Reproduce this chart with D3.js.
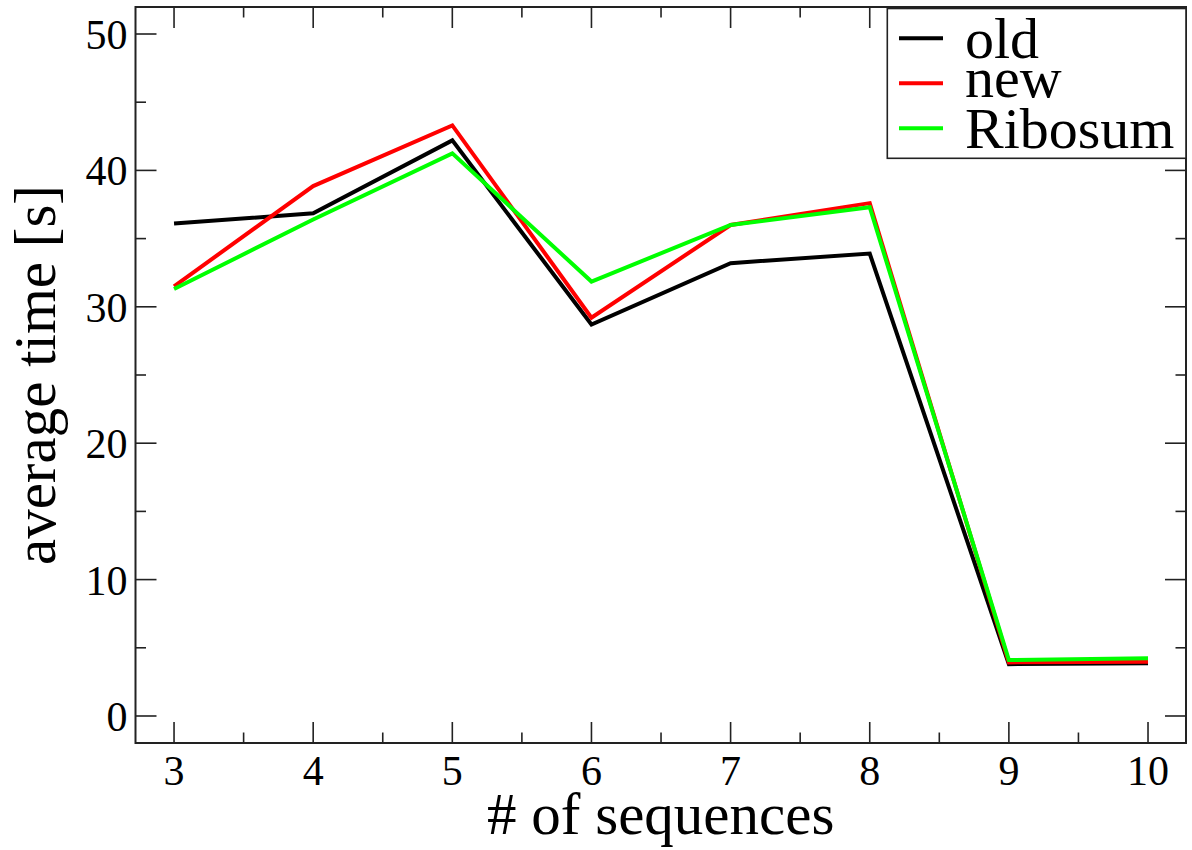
<!DOCTYPE html>
<html>
<head>
<meta charset="utf-8">
<script src="https://cdn.jsdelivr.net/npm/d3@7"></script>
<style>
  html, body { margin: 0; padding: 0; background: #fff; }
  svg { display: block; }
  text { font-family: "Liberation Serif", "Times New Roman", serif; fill: #000; }
</style>
</head>
<body>
<svg id="chart" width="1192" height="850"></svg>
<script>
// ---- data ----
const xValues = [3, 4, 5, 6, 7, 8, 9, 10];
const seriesNames = ["old", "new", "Ribosum"];
const oldValues = [36.1, 36.85, 42.2, 28.7, 33.2, 33.9, 3.8, 3.86];
const newValues = [31.5, 38.85, 43.3, 29.2, 36.0, 37.6, 3.93, 3.98];
const ribosumValues = [31.3, 36.4, 41.25, 31.85, 36.0, 37.3, 4.1, 4.23];
const seriesColors = ["#000000", "#ff0000", "#00ff00"];
const xTickValues = [3, 4, 5, 6, 7, 8, 9, 10];
const yTickValues = [0, 10, 20, 30, 40, 50];
const xLabel = "# of sequences";
const yLabel = "average time [s]";

(function () {
const series = [
  { name: seriesNames[0], values: oldValues, color: seriesColors[0] },
  { name: seriesNames[1], values: newValues, color: seriesColors[1] },
  { name: seriesNames[2], values: ribosumValues, color: seriesColors[2] }
];

// ---- layout ----
const pL = 135.5, pR = 1186, pT = 7, pB = 743;
const svg = d3.select("#chart");

const x = d3.scaleLinear().domain([2.723, 10.273]).range([pL, pR]);
const y = d3.scaleLinear().domain([-1.98, 51.98]).range([pB, pT]);

const majorLen = 21, minorLen = 10.5;
const xMinor = d3.range(3.5, 10, 1);
const yMinor = d3.range(5, 50, 10);

const g = svg.append("g");

// ticks (inside, all four sides)
const tickG = g.append("g").attr("stroke", "#222").attr("stroke-width", 1.6);
xTickValues.forEach(v => {
  tickG.append("line").attr("x1", x(v)).attr("x2", x(v)).attr("y1", pB).attr("y2", pB - majorLen);
  tickG.append("line").attr("x1", x(v)).attr("x2", x(v)).attr("y1", pT).attr("y2", pT + majorLen);
});
xMinor.forEach(v => {
  tickG.append("line").attr("x1", x(v)).attr("x2", x(v)).attr("y1", pB).attr("y2", pB - minorLen);
  tickG.append("line").attr("x1", x(v)).attr("x2", x(v)).attr("y1", pT).attr("y2", pT + minorLen);
});
yTickValues.forEach(v => {
  tickG.append("line").attr("y1", y(v)).attr("y2", y(v)).attr("x1", pL).attr("x2", pL + majorLen);
  tickG.append("line").attr("y1", y(v)).attr("y2", y(v)).attr("x1", pR).attr("x2", pR - majorLen);
});
yMinor.forEach(v => {
  tickG.append("line").attr("y1", y(v)).attr("y2", y(v)).attr("x1", pL).attr("x2", pL + minorLen);
  tickG.append("line").attr("y1", y(v)).attr("y2", y(v)).attr("x1", pR).attr("x2", pR - minorLen);
});

// tick labels
g.append("g").selectAll("text").data(xTickValues).join("text")
  .attr("x", d => x(d)).attr("y", 785)
  .attr("text-anchor", "middle").attr("font-size", 42)
  .text(d => d);
g.append("g").selectAll("text").data(yTickValues).join("text")
  .attr("x", pL - 8).attr("y", d => y(d) + 15)
  .attr("text-anchor", "end").attr("font-size", 42)
  .text(d => d);

// lines
const line = d3.line().x((d, i) => x(xValues[i])).y(d => y(d));
g.append("g").selectAll("path").data(series).join("path")
  .attr("d", s => line(s.values))
  .attr("fill", "none")
  .attr("stroke", s => s.color)
  .attr("stroke-width", 4)
  .attr("stroke-linejoin", "miter");

// frame
g.append("rect").attr("x", pL).attr("y", pT).attr("width", pR - pL).attr("height", pB - pT)
  .attr("fill", "none").attr("stroke", "#222").attr("stroke-width", 2);

// axis labels
g.append("text").attr("x", (pL + pR) / 2).attr("y", 834)
  .attr("text-anchor", "middle").attr("font-size", 59).text(xLabel);
g.append("text").attr("transform", `translate(55, ${(pT + pB) / 2}) rotate(-90)`)
  .attr("text-anchor", "middle").attr("font-size", 59).text(yLabel);

// legend
const legX0 = 887.3, legY0 = 8.5, legX1 = 1186, legY1 = 158.3;
const legend = g.append("g");
legend.append("rect").attr("x", legX0).attr("y", legY0).attr("width", legX1 - legX0).attr("height", legY1 - legY0)
  .attr("fill", "#fff").attr("stroke", "#222").attr("stroke-width", 1.6);
const legLineY = [38.3, 83.3, 128.3];
const legTextY = [58, 97, 148];
series.forEach((s, i) => {
  legend.append("line").attr("x1", 899).attr("x2", 943).attr("y1", legLineY[i]).attr("y2", legLineY[i])
    .attr("stroke", s.color).attr("stroke-width", 4);
  legend.append("text").attr("x", 965).attr("y", legTextY[i]).attr("font-size", 58).text(s.name);
});
})();
</script>
</body>
</html>
